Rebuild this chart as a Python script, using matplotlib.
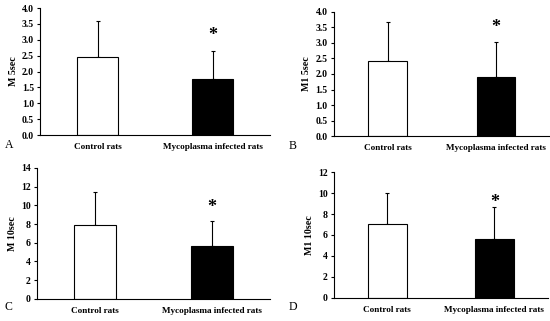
import matplotlib.pyplot as plt
import numpy as np

# Data
groups = ['Control rats', 'Mycoplasma infected rats']
panels = ['A', 'B', 'C', 'D']
ylabels = ['M 5sec', 'M1 5sec', 'M 10sec', 'M1 10sec']
means = [[2.47, 1.78], [2.43, 1.90], [7.9, 5.7], [7.0, 5.6]]
errs = [[1.13, 0.88], [1.24, 1.12], [3.55, 2.65], [3.05, 3.1]]
ymax = [4.0, 4.0, 14, 12]
ystep = [0.5, 0.5, 2, 2]
star_y = [3.12, 3.5, 9.8, 9.1]

plt.rcParams['font.family'] = 'Liberation Serif'
plt.rcParams['font.weight'] = 'bold'

fig = plt.figure(figsize=(5.5, 3.21), dpi=100)
# axes rects [left, bottom, width, height]
rects = [[0.073, 0.579, 0.418, 0.396],
         [0.607, 0.576, 0.393, 0.387],
         [0.067, 0.069, 0.424, 0.408],
         [0.607, 0.072, 0.389, 0.392]]
letter_pos = [(0.008, 0.54), (0.525, 0.535), (0.008, 0.035), (0.525, 0.035)]

x = np.arange(len(groups))
for i in range(4):
    ax = fig.add_axes(rects[i])
    ax.bar(x, means[i], width=0.36, color=['white', 'black'],
           edgecolor='black', linewidth=0.8, zorder=2)
    ax.errorbar(x, means[i], yerr=[[0, 0], errs[i]], fmt='none',
                ecolor='black', elinewidth=0.8, capsize=1.5, capthick=0.8, zorder=1)
    ax.text(1, star_y[i], '*', ha='center', va='center', fontsize=13, fontweight='bold')
    ax.set_xlim(-0.5, 1.5)
    ax.set_ylim(0, ymax[i])
    ticks = np.arange(0, ymax[i] + ystep[i] / 2, ystep[i])
    ax.set_yticks(ticks)
    if ystep[i] < 1:
        ax.set_yticklabels(['%.1f' % t for t in ticks])
    ax.set_xticks(x)
    ax.set_xticklabels(groups, fontsize=6.6, fontweight='bold')
    ax.tick_params(axis='x', length=0, pad=6)
    ax.tick_params(axis='y', labelsize=7, length=2.5, width=0.8, pad=2)
    ax.spines['top'].set_visible(False)
    ax.spines['right'].set_visible(False)
    ax.set_ylabel(ylabels[i], fontsize=7.2, fontweight='bold', labelpad=3)
    fig.text(letter_pos[i][0], letter_pos[i][1], panels[i], fontsize=8.5, fontweight='normal')

fig.savefig('out.png', dpi=100)
